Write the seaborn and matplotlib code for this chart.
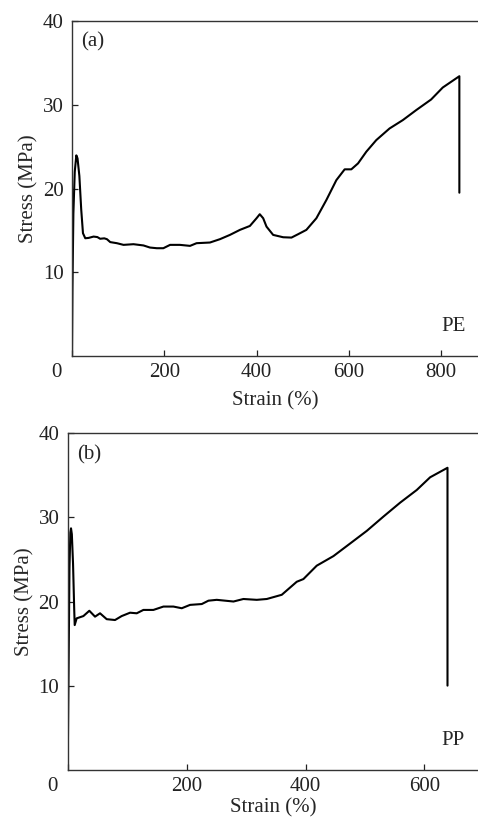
import matplotlib
matplotlib.use("Agg")
import matplotlib.pyplot as plt
from matplotlib.transforms import ScaledTranslation
import seaborn as sns
import pandas as pd

# ---- data ----
pe_strain = [0, 1, 3, 6, 9.4, 12, 16, 20, 23.8, 28.8, 36, 46.8, 55, 61, 70, 75.7, 82.9, 97.3,
             111.7, 133.3, 155, 169, 183.8, 198, 212.6, 234, 255.9, 270, 299, 320.7,
             342.3, 364, 385.6, 400, 407, 414.4, 421.6, 436, 457.7, 475.7, 490, 508,
             529.7, 551.4, 573, 591, 605.4, 620, 638, 659.5, 688.3, 717.1, 746, 778.4,
             803.6, 839.6, 839.6]
pe_stress = [0, 8, 17, 22, 23.96, 23.6, 21.5, 17.5, 14.66, 14.06, 14.1, 14.26, 14.2, 14.0, 14.05, 13.95,
             13.6, 13.47, 13.27, 13.35, 13.2, 12.95, 12.87, 12.87, 13.27, 13.27, 13.15,
             13.47, 13.55, 13.95, 14.46, 15.06, 15.53, 16.45, 16.93, 16.45, 15.45,
             14.46, 14.18, 14.14, 14.54, 15.06, 16.45, 18.63, 21.0, 22.29, 22.29, 23.0,
             24.4, 25.78, 27.17, 28.17, 29.36, 30.63, 32.06, 33.41, 19.5]

pp_strain = [0, 1.5, 3, 4.5, 5.6, 7, 9, 11, 11.8, 15.1, 26.4, 36.4, 46, 54.4, 65.6, 79.6, 90.8,
             104.9, 116.1, 127.3, 144.1, 161, 177.8, 191.8, 205.8, 225.5, 236.7,
             250.7, 278.8, 295.5, 318, 334.8, 360, 385.2, 396.4, 418.8, 446.9, 475,
             503, 531, 559, 587, 609.5, 638.7, 638.7]
pp_stress = [0, 12, 24, 28.2, 28.7, 28.0, 24.5, 19, 17.2, 18.0, 18.27, 18.9, 18.2, 18.6, 17.9,
             17.8, 18.27, 18.67, 18.6, 19.0, 19.0, 19.4, 19.4, 19.2, 19.6, 19.7, 20.1,
             20.2, 20.0, 20.3, 20.2, 20.3, 20.8, 22.35, 22.67, 24.26, 25.4, 26.9,
             28.4, 30.1, 31.75, 33.26, 34.77, 35.9, 10.0]

panel_tags = ["(a)", "(b)"]
materials = ["PE", "PP"]
x_ticks = [[0, 200, 400, 600, 800], [0, 200, 400, 600]]
y_ticks = [10, 20, 30, 40]
x_limits = [880, 690]

sns.set_style("ticks")
plt.rcParams["font.family"] = ["Liberation Serif", "DejaVu Serif"]

fig = plt.figure(figsize=(4.78, 8.18), dpi=100)
ax_a = fig.add_axes([0.1506, 0.5648, 0.8494, 0.4095])
ax_b = fig.add_axes([0.1416, 0.0590, 0.8584, 0.4113])

frames = [pd.DataFrame({"strain": pe_strain, "stress": pe_stress}),
          pd.DataFrame({"strain": pp_strain, "stress": pp_stress})]

FS = 15
xlabel_pads = [6.5, 1.5]
for i, (ax, df) in enumerate(zip([ax_a, ax_b], frames)):
    sns.lineplot(data=df, x="strain", y="stress", ax=ax, sort=False,
                 estimator=None, color="black", linewidth=1.5)
    ax.set_xlim(0, x_limits[i])
    ax.set_ylim(0, 40)
    ax.set_xticks(x_ticks[i])
    ax.set_yticks(y_ticks)
    ax.tick_params(direction="in", length=4, width=0.9, labelsize=FS, colors="#222222")
    ax.tick_params(axis="y", pad=6)
    ax.tick_params(axis="x", pad=5)
    ax.spines["right"].set_visible(False)
    for s in ["left", "top", "bottom"]:
        ax.spines[s].set_color("#333333")
        ax.spines[s].set_linewidth(1.0)
    ax.set_xlabel("Strain (%)", fontsize=FS, labelpad=xlabel_pads[i])
    ax.set_ylabel("Stress (MPa)", fontsize=FS, labelpad=3)
    ax.text(0.052, 0.937, panel_tags[i], transform=ax.transAxes, fontsize=FS,
            ha="center", va="center")
    ax.text(0.94, 0.088, materials[i], transform=ax.transAxes, fontsize=FS,
            ha="center", va="center")
    # shift the "0" label to sit left of the corner
    fig.canvas.draw()
    lbl = ax.get_xticklabels()[0]
    lbl.set_transform(lbl.get_transform() + ScaledTranslation(-11 / 72, 0, fig.dpi_scale_trans))

fig.savefig("out.png", dpi=100)
